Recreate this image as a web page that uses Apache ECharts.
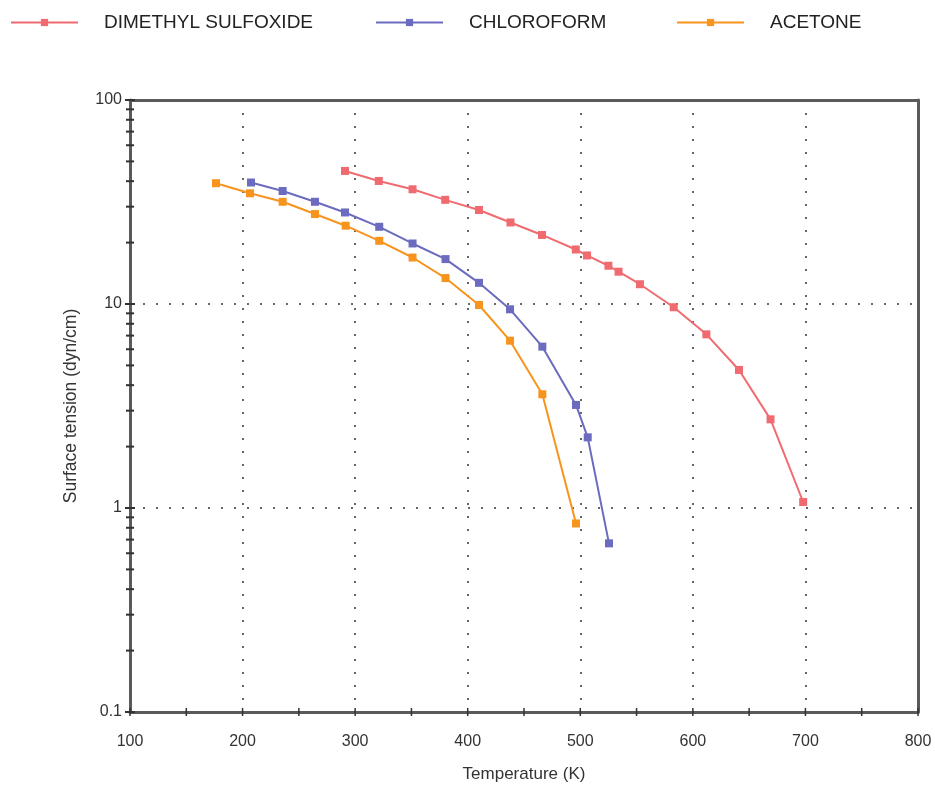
<!DOCTYPE html>
<html>
<head>
<meta charset="utf-8">
<script src="https://cdn.jsdelivr.net/npm/echarts@6/dist/echarts.min.js"></script>
<style>
  html, body { margin: 0; padding: 0; background: #fff; }
  #chart { width: 935px; height: 789px; }
</style>
</head>
<body>
<div id="chart"></div>
<script>
// series names
const seriesNames = ["DIMETHYL SULFOXIDE", "CHLOROFORM", "ACETONE"];

// temperature (K) and surface tension (dyn/cm)
const dmsoT = [291, 321, 351, 380, 410, 438, 466, 496, 506, 525, 534, 553, 583, 612, 641, 669, 698];
const dmsoV = [44.9, 40.1, 36.5, 32.4, 28.9, 25.1, 21.8, 18.5, 17.3, 15.4, 14.4, 12.5, 9.64, 7.1, 4.75, 2.72, 1.07];

const chloroT = [207.5, 235.6, 264.3, 291, 321.4, 351, 380.3, 410, 437.6, 466.3, 496.2, 506.6, 525.5];
const chloroV = [39.4, 35.8, 31.7, 28.1, 23.9, 19.8, 16.6, 12.7, 9.42, 6.18, 3.2, 2.22, 0.671];

const acetoneT = [176.4, 206.6, 235.6, 264.3, 291.6, 321.4, 351, 380.3, 410, 437.6, 466.3, 496.2];
const acetoneV = [39.1, 34.9, 31.7, 27.6, 24.2, 20.4, 16.9, 13.4, 9.89, 6.61, 3.61, 0.84];

// axis ticks
const xTicks = [100, 150, 200, 250, 300, 350, 400, 450, 500, 550, 600, 650, 700, 750, 800];
const yDecades = [0.1, 1, 10];
const yMultipliers = [1, 2, 3, 4, 5, 6, 7, 8, 9];

const colors = ["#f06b70", "#6b6bbf", "#f7941e"];
const axisColor = "#5a5a5a";
const legendLeft = [10, 375, 676];

function pairs(xs, ys) {
  return xs.map((x, i) => [x, ys[i]]);
}

// y tick values (major + minor) on the left axis
const yTickData = [];
for (const d of yDecades) {
  for (const m of yMultipliers) {
    yTickData.push([100, +(d * m).toPrecision(3), m === 1 ? 1 : 0]);
  }
}
yTickData.push([100, 100, 1]);
const xTickData = xTicks.map((t) => [t, 0.1]);

const chart = echarts.init(document.getElementById("chart"));

function lineSeries(name, data, color) {
  return {
    name: name,
    type: "line",
    data: data,
    symbol: "rect",
    symbolSize: 8,
    showSymbol: true,
    color: color,
    lineStyle: { width: 2, color: color },
    itemStyle: { color: color },
    z: 5,
  };
}

// one legend per item so each can sit where the picture has it
const legends = seriesNames.map((name, i) => ({
  data: [name],
  left: legendLeft[i],
  top: 13,
  padding: 0,
  itemWidth: 67,
  itemHeight: 9,
  textStyle: {
    fontSize: 19,
    color: "#222",
    padding: [0, 0, 0, 21],
  },
}));

const hiddenAxisParts = {
  axisTick: { show: false },
  axisLabel: { show: false },
  splitLine: { show: false },
  axisLine: { show: true, lineStyle: { color: axisColor, width: 3 } },
};

const option = {
  animation: false,
  textStyle: { fontFamily: "Liberation Sans, Arial, sans-serif" },
  legend: legends,
  grid: {
    left: 130,
    right: 17,
    top: 100,
    bottom: 77,
  },
  xAxis: [
    {
      type: "value",
      min: 100,
      max: 800,
      interval: 100,
      name: "Temperature (K)",
      nameLocation: "middle",
      nameGap: 54,
      nameTextStyle: { fontSize: 17, color: "#333" },
      axisLine: { show: true, lineStyle: { color: axisColor, width: 3 } },
      axisTick: { show: false },
      axisLabel: { fontSize: 16, color: "#333", margin: 22 },
      splitLine: {
        show: true,
        lineStyle: { color: "#333", width: 1.5, type: [2, 11] },
      },
      z: 3,
    },
    Object.assign({ type: "value", position: "top", min: 100, max: 800, z: 3 }, hiddenAxisParts),
  ],
  yAxis: [
    {
      type: "log",
      logBase: 10,
      min: 0.1,
      max: 100,
      name: "Surface tension (dyn/cm)",
      nameLocation: "middle",
      nameGap: 50,
      nameTextStyle: { fontSize: 17.5, color: "#333" },
      axisLine: { show: true, lineStyle: { color: axisColor, width: 3 } },
      axisTick: { show: false },
      axisLabel: {
        fontSize: 16,
        color: "#333",
        margin: 8,
        formatter: (v) => String(+v.toPrecision(3)),
      },
      splitLine: {
        show: true,
        lineStyle: { color: "#333", width: 1.5, type: [2, 11] },
      },
      z: 3,
    },
    Object.assign({ type: "log", logBase: 10, position: "right", min: 0.1, max: 100, z: 3 }, hiddenAxisParts),
  ],
  series: [
    lineSeries(seriesNames[0], pairs(dmsoT, dmsoV), colors[0]),
    lineSeries(seriesNames[1], pairs(chloroT, chloroV), colors[1]),
    lineSeries(seriesNames[2], pairs(acetoneT, acetoneV), colors[2]),
    {
      // tick marks crossing the left axis
      type: "custom",
      silent: true,
      clip: false,
      z: 10,
      data: yTickData,
      renderItem: (params, api) => {
        const p = api.coord([api.value(0), api.value(1)]);
        const half = api.value(2) ? 5 : 4;
        return {
          type: "line",
          shape: { x1: p[0] - half, y1: p[1], x2: p[0] + half, y2: p[1] },
          style: { stroke: "#333", lineWidth: 2 },
        };
      },
    },
    {
      // tick marks crossing the bottom axis
      type: "custom",
      silent: true,
      clip: false,
      z: 10,
      data: xTickData,
      renderItem: (params, api) => {
        const p = api.coord([api.value(0), api.value(1)]);
        return {
          type: "line",
          shape: { x1: p[0], y1: p[1] - 4, x2: p[0], y2: p[1] + 4 },
          style: { stroke: "#333", lineWidth: 1.5 },
        };
      },
    },
  ],
};

chart.setOption(option);
</script>
</body>
</html>
